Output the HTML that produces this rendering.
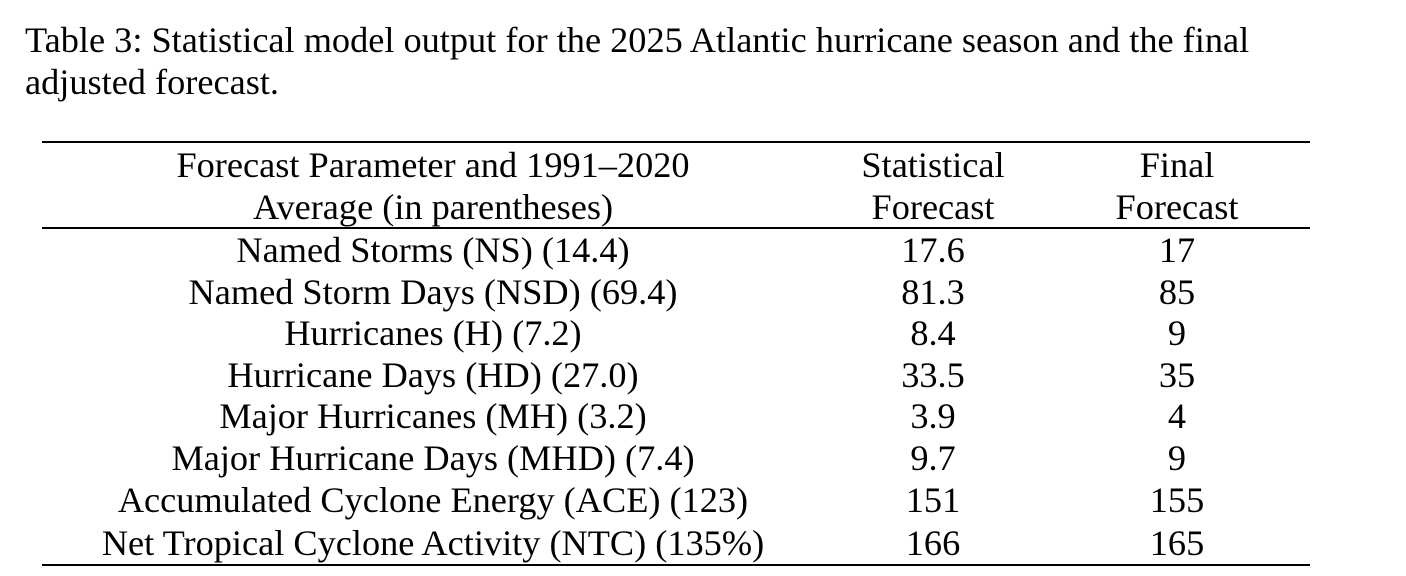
<!DOCTYPE html>
<html><head><meta charset="utf-8"><style>
html,body{margin:0;padding:0;background:#fff;}
body{width:1406px;height:576px;position:relative;overflow:hidden;font-family:"Liberation Serif",serif;color:#000;}
.cap{position:absolute;left:25px;font-size:36.3px;line-height:42px;white-space:nowrap;}
.t{position:absolute;font-size:36.3px;line-height:42px;white-space:nowrap;text-align:center;transform:translateX(-50%);}
.rule{position:absolute;left:42px;width:1268px;height:1.5px;background:#000;}
</style></head><body>
<div class="cap" style="top:19px">Table 3: Statistical model output for the 2025 Atlantic hurricane season and the final</div>
<div class="cap" style="top:61px">adjusted forecast.</div>
<div class="rule" style="top:141px"></div>
<div class="rule" style="top:227px"></div>
<div class="rule" style="top:564px"></div>

<div class="t" style="left:433px;top:144px">Forecast Parameter and 1991–2020</div>
<div class="t" style="left:433px;top:186px">Average (in parentheses)</div>
<div class="t" style="left:933px;top:144px">Statistical</div>
<div class="t" style="left:933px;top:186px">Forecast</div>
<div class="t" style="left:1177px;top:144px">Final</div>
<div class="t" style="left:1177px;top:186px">Forecast</div>

<div class="t" style="left:433px;top:229px">Named Storms (NS) (14.4)</div>
<div class="t" style="left:433px;top:271px">Named Storm Days (NSD) (69.4)</div>
<div class="t" style="left:433px;top:312px">Hurricanes (H) (7.2)</div>
<div class="t" style="left:433px;top:354px">Hurricane Days (HD) (27.0)</div>
<div class="t" style="left:433px;top:395px">Major Hurricanes (MH) (3.2)</div>
<div class="t" style="left:433px;top:437px">Major Hurricane Days (MHD) (7.4)</div>
<div class="t" style="left:433px;top:479px">Accumulated Cyclone Energy (ACE) (123)</div>
<div class="t" style="left:433px;top:522px">Net Tropical Cyclone Activity (NTC) (135%)</div>

<div class="t" style="left:933px;top:229px">17.6</div>
<div class="t" style="left:933px;top:271px">81.3</div>
<div class="t" style="left:933px;top:312px">8.4</div>
<div class="t" style="left:933px;top:354px">33.5</div>
<div class="t" style="left:933px;top:395px">3.9</div>
<div class="t" style="left:933px;top:437px">9.7</div>
<div class="t" style="left:933px;top:479px">151</div>
<div class="t" style="left:933px;top:522px">166</div>

<div class="t" style="left:1177px;top:229px">17</div>
<div class="t" style="left:1177px;top:271px">85</div>
<div class="t" style="left:1177px;top:312px">9</div>
<div class="t" style="left:1177px;top:354px">35</div>
<div class="t" style="left:1177px;top:395px">4</div>
<div class="t" style="left:1177px;top:437px">9</div>
<div class="t" style="left:1177px;top:479px">155</div>
<div class="t" style="left:1177px;top:522px">165</div>
</body></html>
